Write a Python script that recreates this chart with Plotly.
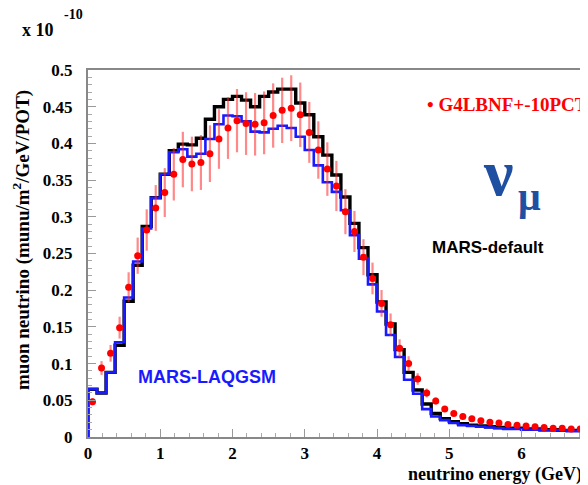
import plotly.graph_objects as go

bin_width = 0.125
n_bins = 56

mars_default = [0.065,0.060,0.088,0.125,0.185,0.234,0.287,0.326,0.358,0.390,0.399,0.398,0.407,0.433,0.450,0.460,0.464,0.459,0.450,0.464,0.470,0.474,0.474,0.455,0.439,0.409,0.384,0.357,0.327,0.291,0.258,0.221,0.184,0.154,0.119,0.088,0.064,0.045,0.032,0.025,0.021,0.018,0.016,0.015,0.014,0.013,0.012,0.012,0.011,0.011,0.010,0.010,0.009,0.009,0.009,0.008]
mars_laqgsm = [0.065,0.060,0.088,0.129,0.190,0.239,0.284,0.326,0.358,0.388,0.392,0.382,0.386,0.406,0.426,0.438,0.437,0.430,0.416,0.415,0.420,0.424,0.421,0.409,0.391,0.370,0.347,0.334,0.309,0.275,0.243,0.208,0.171,0.139,0.109,0.078,0.059,0.038,0.028,0.023,0.019,0.016,0.015,0.014,0.013,0.012,0.011,0.011,0.010,0.010,0.009,0.009,0.009,0.008,0.008,0.008]
g4lbnf = [0.048,0.094,0.114,0.149,0.204,0.247,0.282,0.312,0.333,0.358,0.378,0.372,0.374,0.386,0.406,0.421,0.431,0.427,0.426,0.428,0.438,0.445,0.448,0.439,0.415,0.391,0.365,0.342,0.307,0.280,0.245,0.216,0.182,0.153,0.121,0.100,0.079,0.060,0.049,0.038,0.032,0.028,0.025,0.022,0.020,0.019,0.017,0.016,0.015,0.014,0.013,0.012,0.012,0.011,0.011,0.010]
g4_err_pct = 10

x_ticks = [0, 1, 2, 3, 4, 5, 6]
y_ticks = [0, 0.05, 0.1, 0.15, 0.2, 0.25, 0.3, 0.35, 0.4, 0.45, 0.5]

edges = [i * bin_width for i in range(n_bins + 1)]
centers = [(i + 0.5) * bin_width for i in range(n_bins)]

def step_xy(vals):
    xs = [0.0] + edges
    ys = [0.0] + list(vals) + [vals[-1]]
    return xs, ys

fig = go.Figure()
bx, by = step_xy(mars_default)
fig.add_trace(go.Scatter(x=bx, y=by, mode="lines", line=dict(shape="hv", color="black", width=3.4), showlegend=False))
lx, ly = step_xy(mars_laqgsm)
fig.add_trace(go.Scatter(x=lx, y=ly, mode="lines", line=dict(shape="hv", color="#1a1aff", width=2.6), showlegend=False))
fig.add_trace(go.Scatter(
    x=centers, y=g4lbnf, mode="markers",
    marker=dict(color="red", size=7),
    error_y=dict(type="percent", value=g4_err_pct, color="rgba(255,40,40,0.55)", thickness=2.2, width=0),
    showlegend=False))

serif = "Liberation Serif"
tickfont = dict(family=serif, size=17, color="black", weight="bold")

# the page body has an 8px margin; the figure is sized so the plot area
# lands at page pixels x 88..588, y 70..437
fig.update_layout(
    width=580, height=477,
    margin=dict(l=80, r=0, t=62, b=48),
    plot_bgcolor="white", paper_bgcolor="white",
    xaxis=dict(range=[0, 6.92], tickvals=x_ticks, ticks="inside", ticklen=8, tickwidth=1,
               tickcolor="#999", showline=True, linecolor="#888", linewidth=2, mirror=True,
               showgrid=False, zeroline=False, tickfont=tickfont, ticklabelstandoff=0,
               minor=dict(dtick=0.2, ticks="inside", ticklen=4, tickcolor="#aaa")),
    yaxis=dict(range=[0, 0.5], tickvals=y_ticks, ticks="inside", ticklen=8, tickwidth=1,
               tickcolor="#999", showline=True, linecolor="#888", linewidth=2, mirror=False,
               showgrid=False, zeroline=False, tickfont=tickfont, ticklabelstandoff=10,
               minor=dict(dtick=0.01, ticks="inside", ticklen=4, tickcolor="#aaa")),
)

def px_x(p):
    return (p - 88) / 500.0

def px_y(p):
    return (437 - p) / 367.0

ann = [
    dict(text="<b>x 10</b>", x=px_x(20), y=px_y(30), xanchor="left", yanchor="middle",
         font=dict(family=serif, size=18, color="black")),
    dict(text="<b>-10</b>", x=px_x(62), y=px_y(15), xanchor="left", yanchor="middle",
         font=dict(family=serif, size=14, color="black")),
    dict(text="<b>muon neutrino (munu/m<sup>2</sup>/GeV/POT)</b>", x=px_x(22), y=px_y(240),
         textangle=-90, xanchor="center", yanchor="middle",
         font=dict(family=serif, size=19, color="black")),
    dict(text="<b>neutrino energy (GeV)</b>", x=px_x(406), y=px_y(474), xanchor="left", yanchor="middle",
         font=dict(family=serif, size=18, color="black")),
    dict(text="<b>• G4LBNF+-10PCT</b>", x=px_x(425), y=px_y(104), xanchor="left", yanchor="middle",
         font=dict(family=serif, size=19, color="red")),
    dict(text="ν", x=px_x(498), y=px_y(172), xanchor="center", yanchor="middle",
         font=dict(family=serif, size=66, color="#1f4fa0", weight="bold")),
    dict(text="μ", x=px_x(529), y=px_y(196), xanchor="center", yanchor="middle",
         font=dict(family=serif, size=40, color="#1f4fa0", weight="bold")),
    dict(text="<b>MARS-default</b>", x=px_x(488), y=px_y(248), xanchor="center", yanchor="middle",
         font=dict(family="Liberation Sans", size=17, color="black")),
    dict(text="<b>MARS-LAQGSM</b>", x=px_x(207), y=px_y(377), xanchor="center", yanchor="middle",
         font=dict(family="Liberation Sans", size=18, color="#1a1aff")),
]
for a in ann:
    a.update(xref="paper", yref="paper", showarrow=False)
fig.update_layout(annotations=ann)

fig.write_html("out.html")
